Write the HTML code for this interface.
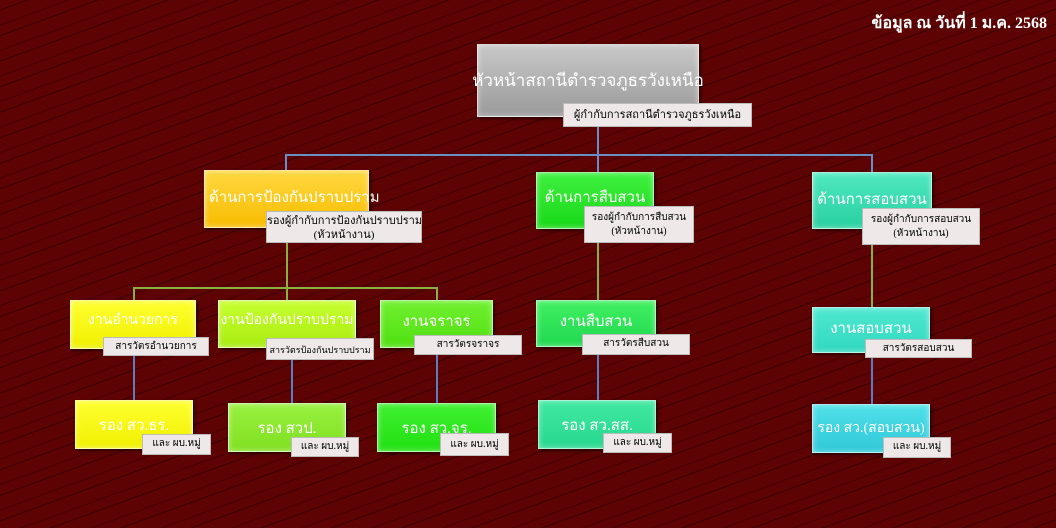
<!DOCTYPE html>
<html><head><meta charset="utf-8"><style>
*{margin:0;padding:0;box-sizing:border-box}
body{width:1056px;height:528px;overflow:hidden;position:relative;
background:#5e0303;
background-image:repeating-linear-gradient(160deg,rgba(0,0,0,0) 0 9px,rgba(20,0,0,.55) 9px 10px,rgba(0,0,0,0) 10px 23px,rgba(30,0,0,.4) 23px 24px);
font-family:"Liberation Serif","DejaVu Sans",serif}
.b{position:absolute;color:#fff;display:flex;align-items:flex-start;justify-content:center;padding-top:8px;font-size:15px;border:1px solid rgba(255,255,255,.6);box-shadow:inset 0 0 6px rgba(255,255,255,.5),2px 2px 3px rgba(0,0,0,.5);white-space:nowrap;overflow:visible}
.s{position:absolute;background:#eee8e8;color:#000;font-size:10px;text-align:center;line-height:14px;padding-top:2px;white-space:nowrap;border:1px solid #bbb;overflow:hidden}
.l{position:absolute}
</style></head><body>
<div style="position:absolute;right:9px;top:11px;color:#fff;font-weight:bold;font-size:16px">ข้อมูล ณ วันที่ 1 ม.ค. 2568</div>

<div class="l" style="left:597px;top:117px;width:2px;height:38px;background:#6a8ec8"></div>
<div class="l" style="left:286px;top:154px;width:587px;height:2px;background:#6a8ec8"></div>
<div class="l" style="left:285px;top:154px;width:2px;height:18px;background:#6a8ec8"></div>
<div class="l" style="left:597px;top:154px;width:2px;height:18px;background:#6a8ec8"></div>
<div class="l" style="left:871px;top:154px;width:2px;height:18px;background:#6a8ec8"></div>

<div class="l" style="left:286px;top:243px;width:2px;height:57px;background:#8ab040"></div>
<div class="l" style="left:134px;top:287px;width:304px;height:2px;background:#8ab040"></div>
<div class="l" style="left:133px;top:287px;width:2px;height:13px;background:#8ab040"></div>
<div class="l" style="left:436px;top:287px;width:2px;height:13px;background:#8ab040"></div>
<div class="l" style="left:597px;top:243px;width:2px;height:57px;background:#8ab040"></div>
<div class="l" style="left:871px;top:245px;width:2px;height:62px;background:#8ab040"></div>

<div class="l" style="left:133px;top:356px;width:2px;height:44px;background:#5a7ec0"></div>
<div class="l" style="left:291px;top:360px;width:2px;height:43px;background:#5a7ec0"></div>
<div class="l" style="left:436px;top:355px;width:2px;height:48px;background:#5a7ec0"></div>
<div class="l" style="left:597px;top:355px;width:2px;height:45px;background:#5a7ec0"></div>
<div class="l" style="left:871px;top:358px;width:2px;height:47px;background:#5a7ec0"></div>

<div class="b" style="left:477px;top:44px;width:222px;height:73px;background:linear-gradient(#c8c8c8,#9a9a9a);font-size:17px;padding-top:22px">หัวหน้าสถานีตำรวจภูธรวังเหนือ</div>
<div class="s" style="left:563px;top:103px;width:189px;height:24px;font-size:11px;padding-top:4px">ผู้กำกับการสถานีตำรวจภูธรวังเหนือ</div>

<div class="b" style="left:204px;top:170px;width:165px;height:58px;background:linear-gradient(#ffd840,#f8bc00);font-size:15px;padding-top:14px;justify-content:flex-start;padding-left:4px">ด้านการป้องกันปราบปราม</div>
<div class="s" style="left:266px;top:211px;width:156px;height:32px;font-size:11px">รองผู้กำกับการป้องกันปราบปราม<br>(หัวหน้างาน)</div>
<div class="b" style="left:536px;top:172px;width:118px;height:57px;background:linear-gradient(#40f040,#18d818);padding-top:12px">ด้านการสืบสวน</div>
<div class="s" style="left:584px;top:206px;width:110px;height:37px;padding-top:4px">รองผู้กำกับการสืบสวน<br>(หัวหน้างาน)</div>
<div class="b" style="left:812px;top:172px;width:120px;height:57px;background:linear-gradient(#50e8c0,#28d0a0);padding-top:14px">ด้านการสอบสวน</div>
<div class="s" style="left:862px;top:208px;width:118px;height:37px;padding-top:4px">รองผู้กำกับการสอบสวน<br>(หัวหน้างาน)</div>

<div class="b" style="left:70px;top:300px;width:126px;height:49px;background:linear-gradient(#ffff30,#f0f000);font-size:14px">งานอำนวยการ</div>
<div class="s" style="left:103px;top:337px;width:106px;height:19px">สารวัตรอำนวยการ</div>
<div class="b" style="left:218px;top:300px;width:138px;height:48px;background:linear-gradient(#c8ff30,#a8ec10);font-size:14px">งานป้องกันปราบปราม</div>
<div class="s" style="left:266px;top:338px;width:108px;height:22px;font-size:9px;padding-top:4px">สารวัตรป้องกันปราบปราม</div>
<div class="b" style="left:380px;top:300px;width:113px;height:48px;background:linear-gradient(#70f030,#50e010)">งานจราจร</div>
<div class="s" style="left:414px;top:335px;width:108px;height:20px">สารวัตรจราจร</div>
<div class="b" style="left:536px;top:300px;width:120px;height:47px;background:linear-gradient(#40f060,#20d850)">งานสืบสวน</div>
<div class="s" style="left:582px;top:334px;width:108px;height:21px">สารวัตรสืบสวน</div>
<div class="b" style="left:812px;top:307px;width:118px;height:46px;background:linear-gradient(#50e8d0,#30d8c0)">งานสอบสวน</div>
<div class="s" style="left:865px;top:339px;width:107px;height:19px">สารวัตรสอบสวน</div>

<div class="b" style="left:75px;top:400px;width:118px;height:49px;background:linear-gradient(#ffff30,#f0f000);padding-top:12px">รอง สว.ธร.</div>
<div class="s" style="left:142px;top:434px;width:69px;height:21px">และ ผบ.หมู่</div>
<div class="b" style="left:228px;top:403px;width:118px;height:49px;background:linear-gradient(#98f040,#80e020);padding-top:12px">รอง สวป.</div>
<div class="s" style="left:291px;top:437px;width:68px;height:20px">และ ผบ.หมู่</div>
<div class="b" style="left:377px;top:403px;width:119px;height:49px;background:linear-gradient(#40f030,#20e010);padding-top:12px">รอง สว.จร.</div>
<div class="s" style="left:440px;top:433px;width:69px;height:23px;padding-top:4px">และ ผบ.หมู่</div>
<div class="b" style="left:538px;top:400px;width:118px;height:49px;background:linear-gradient(#40e8a0,#28d890);padding-top:12px">รอง สว.สส.</div>
<div class="s" style="left:603px;top:433px;width:69px;height:20px">และ ผบ.หมู่</div>
<div class="b" style="left:812px;top:404px;width:118px;height:49px;background:linear-gradient(#50e0e8,#30c8d8);padding-top:12px;font-size:14px">รอง สว.(สอบสวน)</div>
<div class="s" style="left:883px;top:437px;width:68px;height:21px">และ ผบ.หมู่</div>
</body></html>
